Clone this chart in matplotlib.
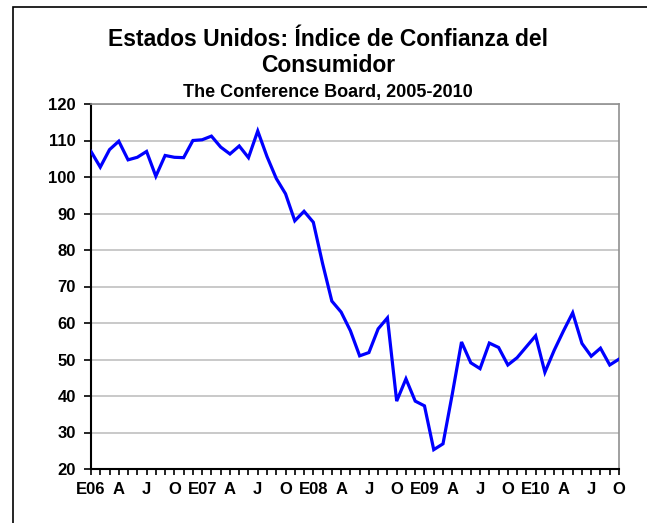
import matplotlib
matplotlib.use("Agg")
import matplotlib.pyplot as plt
from matplotlib.patches import Rectangle

plt.rcParams['font.family'] = ['Liberation Sans', 'DejaVu Sans']

# Indice de confianza del consumidor, mensual, enero 2006 - octubre 2010
valores_2006 = [107.0, 102.7, 107.5, 109.8, 104.7, 105.4, 107.0, 100.2, 105.9, 105.4, 105.3, 110.0]
valores_2007 = [110.2, 111.2, 108.2, 106.3, 108.5, 105.3, 112.6, 105.6, 99.6, 95.4, 88.0, 90.6]
valores_2008 = [87.6, 76.3, 66.0, 63.0, 57.9, 51.0, 51.9, 58.4, 61.4, 38.6, 44.7, 38.6]
valores_2009 = [37.3, 25.3, 26.9, 40.5, 54.8, 49.1, 47.5, 54.5, 53.3, 48.5, 50.5, 53.5]
valores_2010 = [56.5, 46.5, 52.5, 57.8, 62.8, 54.4, 50.9, 53.1, 48.5, 50.1]
indice = valores_2006 + valores_2007 + valores_2008 + valores_2009 + valores_2010

etiquetas = ['E06', 'A', 'J', 'O', 'E07', 'A', 'J', 'O', 'E08', 'A', 'J', 'O',
             'E09', 'A', 'J', 'O', 'E10', 'A', 'J', 'O']
yticks = [20, 30, 40, 50, 60, 70, 80, 90, 100, 110, 120]

W, H = 647, 523
fig = plt.figure(figsize=(W / 100, H / 100), dpi=100)
ax = fig.add_axes([91 / W, 1 - 469 / H, (619 - 91) / W, (469 - 104) / H])

meses = list(range(len(indice)))
ax.plot(meses, indice, color='#0000FF', lw=2.3, solid_joinstyle='miter', zorder=3)

ax.set_xlim(0, len(indice) - 1)
ax.set_ylim(20, 120)
ax.set_yticks(yticks)
ax.set_yticklabels([str(v) for v in yticks], fontsize=12, fontweight='bold')
ax.set_xticks(meses, minor=True)
ax.set_xticks(meses[::3])
ax.set_xticklabels(etiquetas, fontsize=12, fontweight='bold')
ax.tick_params(axis='y', length=5, width=1.2, pad=6)
ax.tick_params(axis='x', which='both', length=4, width=1.2, pad=5)
ax.grid(axis='y', color='#C0C0C0', lw=1.2)
ax.set_axisbelow(True)

for lado in ['left', 'bottom']:
    ax.spines[lado].set_color('black')
    ax.spines[lado].set_linewidth(1.5)
for lado in ['top', 'right']:
    ax.spines[lado].set_color('#909090')
    ax.spines[lado].set_linewidth(1.2)

fig.text(328 / W, 1 - 39 / H, 'Estados Unidos: Índice de Confianza del',
         ha='center', va='center', fontsize=16.5, fontweight='bold')
fig.text(328 / W, 1 - 66 / H, 'Consumidor',
         ha='center', va='center', fontsize=16.5, fontweight='bold')
fig.text(328 / W, 1 - 93 / H, 'The Conference Board, 2005-2010',
         ha='center', va='center', fontsize=13, fontweight='bold')

fig.patches.append(Rectangle((13 / W, -0.1), 1.1, 1 - 6.5 / H + 0.1,
                             transform=fig.transFigure, fill=False,
                             edgecolor='black', lw=1.2))

fig.savefig('out.png', dpi=100)
